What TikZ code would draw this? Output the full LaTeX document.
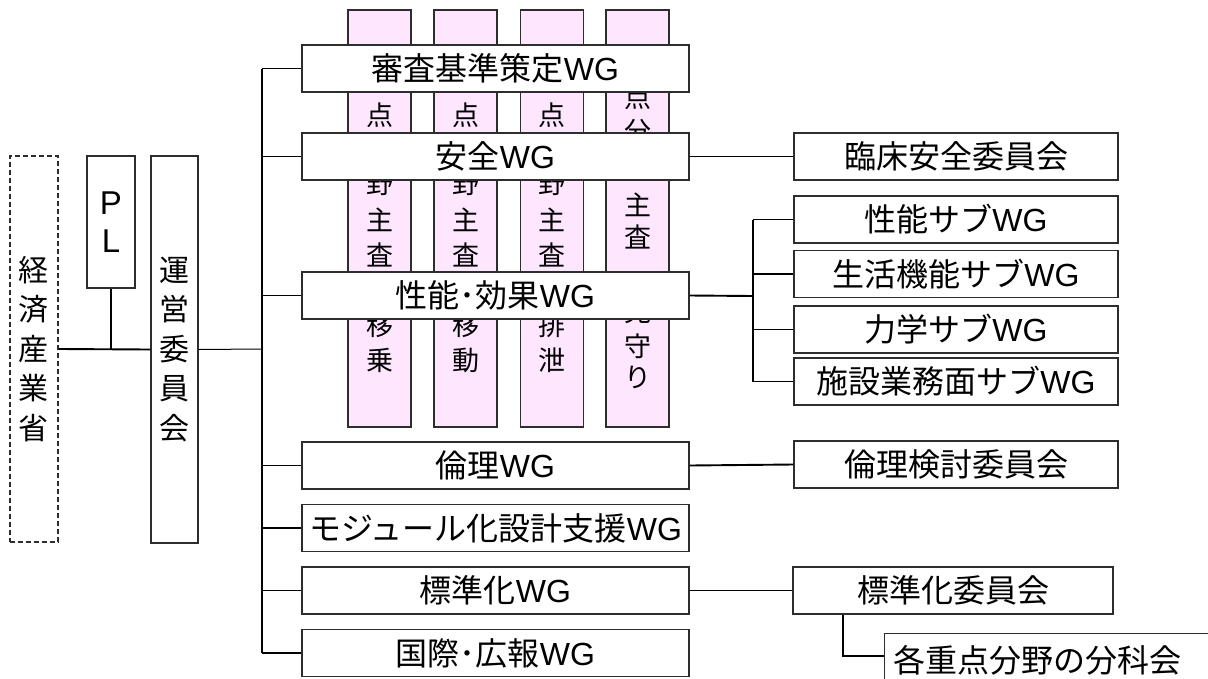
\documentclass[tikz,border=0pt]{standalone}
\usepackage{fontspec}
\setmainfont{Noto Sans CJK JP}
\newfontfamily\arialf{Liberation Sans}
\newcommand\wgt{{\arialf WG}}
\definecolor{colpink}{RGB}{255,230,255}
\definecolor{bordergray}{RGB}{45,45,45}
\begin{document}
\begin{tikzpicture}[x=1pt,y=-1pt,
  box/.style={draw=bordergray, line width=1.3pt, fill=white, inner sep=0pt, font=\fontsize{32}{38}\selectfont},
  wg/.style={box, minimum width=387pt, minimum height=47pt},
  side/.style={box, minimum width=324pt, minimum height=47pt},
  vbox/.style={box, align=center, font=\fontsize{30}{39.5}\selectfont},
  col/.style={draw=bordergray, line width=1.2pt, fill=colpink, minimum width=63pt, minimum height=417pt, inner sep=0pt},
  ctext/.style={font=\fontsize{27}{30}\selectfont, inner sep=0pt},
  link/.style={line width=1.9pt},
  thinlink/.style={line width=1pt}]
\useasboundingbox (0,0) rectangle (1208,678);
\clip (0,0) rectangle (1208,678);

% pink columns
\node[col] (col1) at (379.5,218.5) {};
\node[col] (col2) at (465.5,218.5) {};
\node[col] (col3) at (552,218.5) {};
\node[col] (col4) at (637.5,218.5) {};
\foreach \c/\y [count=\k] in {点/115,野/184,主/220,査/255,移/325,乗/360}
  \node[ctext] (ca\k) at (379.5,\y) {\c};
\foreach \c/\y [count=\k] in {点/115,野/184,主/220,査/255,移/325,動/360}
  \node[ctext] (cb\k) at (465.5,\y) {\c};
\foreach \c/\y [count=\k] in {点/115,野/184,主/220,査/255,排/325,泄/360}
  \node[ctext] (cc\k) at (552,\y) {\c};
\foreach \c/\y [count=\k] in {点/97,分/132,主/205,査/237,見/312,守/346,り/377}
  \node[ctext] (cd\k) at (637.5,\y) {\c};

% left side
\node[vbox, draw=bordergray, dash pattern=on 5pt off 3pt, line width=1.1pt, minimum width=48pt, minimum height=386pt] (meti) at (34,349) {経\\済\\産\\業\\省};
\node[box, align=center, minimum width=48pt, minimum height=132pt, font=\arialf\fontsize{33}{38}\selectfont] (pl) at (111,222) {P\\L};
\node[vbox, minimum width=47pt, minimum height=387pt] (unei) at (174.5,349.5) {運\\営\\委\\員\\会};

\coordinate (tr) at (262,349);
\draw[link] (meti.east) -- (unei.west);
\draw[link] (pl.south) -- (pl.south |- meti.east);
\draw[thinlink] (unei.east) -- (tr);

% WG boxes
\node[wg] (shinsa) at (495.5,68.5) {審査基準策定\wgt};
\node[wg] (anzen) at (495.5,156.5) {安全\wgt};
\node[wg] (seino) at (495.5,295.5) {性能･効果\wgt};
\node[wg] (rinri) at (495.5,465.5) {倫理\wgt};
\node[wg] (module) at (495.5,528) {モジュール化設計支援\wgt};
\node[wg] (hyojun) at (495.5,590.5) {標準化\wgt};
\node[wg] (kokusai) at (495.5,653) {国際･広報\wgt};

\draw[link] (shinsa.west -| tr) -- (kokusai.west -| tr);
\foreach \n in {shinsa,anzen,seino,rinri,module,hyojun,kokusai}
  \draw[link] (\n.west) -- (\n.west -| tr);

% right side
\node[side] (rinsho) at (956,156.5) {臨床安全委員会};
\node[side] (sub1) at (956,219.5) {性能サブ\wgt};
\node[side] (sub2) at (956,274) {生活機能サブ\wgt};
\node[side] (sub3) at (956,329.5) {力学サブ\wgt};
\node[side] (sub4) at (956,381.5) {施設業務面サブ\wgt};
\node[side] (rinri2) at (956,464.5) {倫理検討委員会};
\node[box, minimum width=320pt, minimum height=47pt] (hkai) at (953,590.5) {標準化委員会};
\node[box, anchor=north west, minimum height=54pt, text width=338pt, align=left, inner xsep=9pt] (bunka) at (884,633) {各重点分野の分科会};

\draw[link] (anzen.east) -- (rinsho.west);
\coordinate (br) at (753,296);
\draw[link] (seino.east) -- (br);
\draw[link] (sub1.west -| br) -- (sub4.west -| br);
\foreach \n in {sub1,sub2,sub3,sub4}
  \draw[link] (\n.west) -- (\n.west -| br);
\draw[link] (rinri.east) -- (rinri2.west);
\draw[thinlink] (hyojun.east) -- (hkai.west);
\coordinate (el) at (843,656);
\draw[link] (hkai.south -| el) -- (el) -- (el -| bunka.west);
\end{tikzpicture}
\end{document}
